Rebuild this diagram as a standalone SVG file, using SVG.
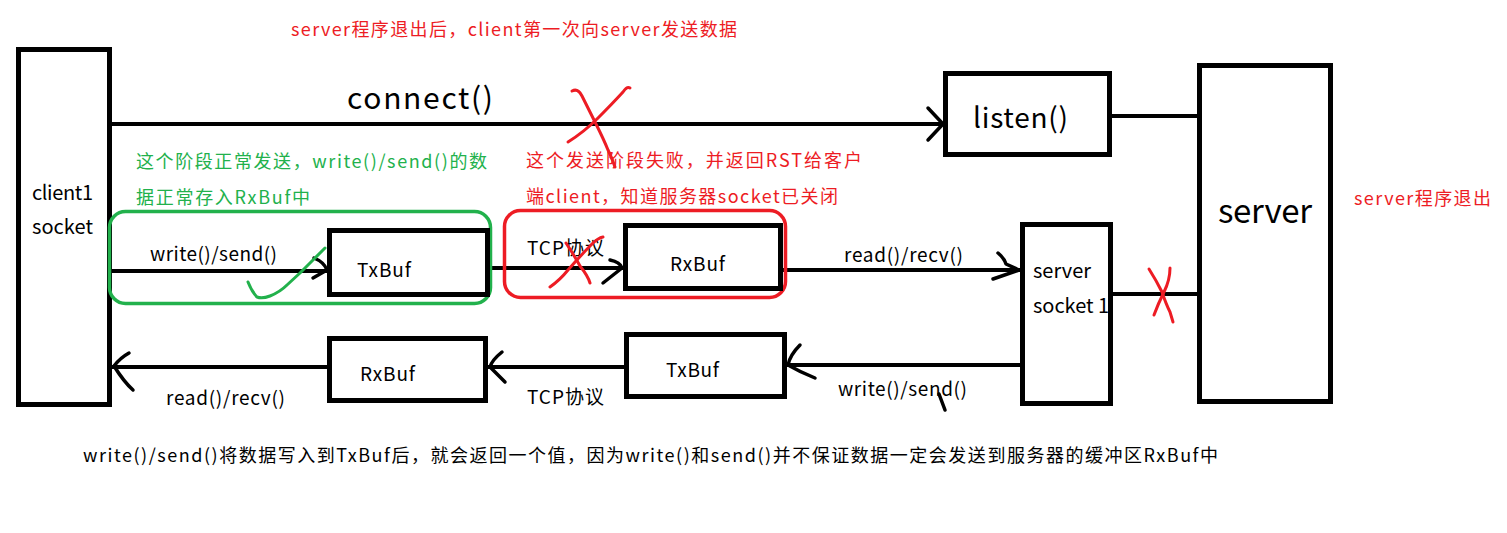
<svg xmlns="http://www.w3.org/2000/svg" width="1507" height="533" viewBox="0 0 1507 533">
<style>
text{font-family:"Noto Sans CJK SC","Liberation Sans",sans-serif;fill:#000}
.box{fill:#fff;stroke:#000;stroke-width:5}
.ln{fill:none;stroke:#000;stroke-width:4;stroke-linecap:square}
.ah{fill:none;stroke:#000;stroke-width:3.5;stroke-linecap:round;stroke-linejoin:round}
.red{fill:#ed1c24}
.grn{fill:#22b14c}
.rx{fill:none;stroke:#ed1c24;stroke-width:3;stroke-linecap:round;stroke-linejoin:round}
.gx{fill:none;stroke:#22b14c;stroke-width:3;stroke-linecap:round;stroke-linejoin:round}
</style>
<rect width="1507" height="533" fill="#fff"/>
<text class="red" x="291" y="36" font-size="18" textLength="446">server程序退出后，client第一次向server发送数据</text>
<g id="connectors">
<line class="ln" x1="112" y1="124" x2="941" y2="124"/>
<path class="ah" d="M928,108 L943,124 L928,140"/>
<text x="347" y="109" font-size="30" textLength="146">connect()</text>
<line class="ln" x1="1112" y1="116" x2="1197" y2="116"/>
<line class="ln" x1="106" y1="271" x2="325" y2="271"/>
<path class="ah" d="M314,258 Q324,262 327,270 L313,278"/>
<text x="150" y="261" font-size="19" textLength="127">write()/send()</text>
<line class="ln" x1="490" y1="268" x2="621" y2="268"/>
<path class="ah" d="M610,260 Q620,262 622,268 L603,283"/>
<text x="527" y="255" font-size="19" textLength="77">TCP协议</text>
<line class="ln" x1="783" y1="270" x2="1018" y2="270"/>
<path class="ah" d="M998,253 Q1004,258 1006,264 L1019,270 L993,279"/>
<text x="844" y="262" font-size="19" textLength="119">read()/recv()</text>
<line class="ln" x1="1113" y1="294" x2="1197" y2="294"/>
<line class="ln" x1="789" y1="365" x2="1020" y2="365"/>
<path class="ah" d="M800,345 Q790,355 788,365 Q800,372 815,378"/>
<text x="838" y="396" font-size="19" textLength="129">write()/send()</text>
<path class="ah" d="M939,394 L945,410"/>
<line class="ln" x1="490" y1="367" x2="624" y2="367"/>
<path class="ah" d="M502,352 Q492,360 490,367 Q498,375 505,382"/>
<text x="527" y="404" font-size="19" textLength="77">TCP协议</text>
<line class="ln" x1="114" y1="367" x2="327" y2="367"/>
<path class="ah" d="M129,353 Q120,358 114,366 Q124,382 133,390"/>
<text x="166" y="405" font-size="19" textLength="119">read()/recv()</text>
</g>
<g id="client1">
<rect class="box" x="18.5" y="49.5" width="91" height="355"/>
<text x="32" y="200" font-size="20" textLength="61">client1</text>
<text x="32" y="234" font-size="20" textLength="61">socket</text>
</g>
<g id="listen">
<rect class="box" x="945.5" y="73.5" width="164" height="81"/>
<text x="973" y="128" font-size="28" textLength="95">listen()</text>
</g>
<g id="server">
<rect class="box" x="1199.5" y="65.5" width="131" height="336"/>
<text x="1218" y="223" font-size="33" textLength="94">server</text>
</g>
<g id="server-socket">
<rect class="box" x="1022.5" y="224.5" width="88" height="179"/>
<text x="1033" y="278" font-size="20" textLength="58">server</text>
<text x="1033" y="313" font-size="20" textLength="76">socket 1</text>
</g>
<g id="green-group">
<rect x="109.5" y="211.5" width="381" height="92" rx="16" fill="none" stroke="#22b14c" stroke-width="3.5"/>
<text class="grn" x="136" y="168" font-size="18" textLength="351">这个阶段正常发送，write()/send()的数</text>
<text class="grn" x="136" y="204" font-size="18" textLength="174">据正常存入RxBuf中</text>
</g>
<g id="txbuf-client">
<rect class="box" x="329.5" y="230.5" width="158" height="64"/>
<text x="357" y="277" font-size="19" textLength="54">TxBuf</text>
</g>
<path class="gx" d="M248,282 Q252,292 257,297 Q262,299 270,296 Q280,292 287,285 L300,273 L313,260 L325,248"/>
<g id="red-group">
<rect x="504.5" y="210.5" width="281" height="87" rx="16" fill="none" stroke="#ed1c24" stroke-width="3.5"/>
<text class="red" x="526" y="167" font-size="18" textLength="336">这个发送阶段失败，并返回RST给客户</text>
<text class="red" x="526" y="203" font-size="18" textLength="312">端client，知道服务器socket已关闭</text>
</g>
<g id="rxbuf-server">
<rect class="box" x="625.5" y="225.5" width="155" height="63"/>
<text x="670" y="271" font-size="19" textLength="55">RxBuf</text>
</g>
<g id="txbuf-server">
<rect class="box" x="626.5" y="334.5" width="158" height="62"/>
<text x="666" y="377" font-size="19" textLength="53">TxBuf</text>
</g>
<g id="rxbuf-client">
<rect class="box" x="329.5" y="338.5" width="156" height="62"/>
<text x="360" y="381" font-size="19" textLength="55">RxBuf</text>
</g>
<g id="marks">
<path class="rx" d="M572,91 Q578,88 582,96 Q590,112 596,124 Q604,140 608,150 Q612,158 615,167"/>
<path class="rx" d="M630,88 Q627,86 623,92 Q612,104 598,118 Q584,132 568,142"/>
<path class="rx" d="M550,287 Q560,280 568,270 Q582,254 592,244 Q598,238 603,237"/>
<path class="rx" d="M566,243 Q574,255 580,266 Q588,276 590,283"/>
<path class="rx" d="M1149,269 Q1156,280 1162,292 Q1166,304 1170,312 L1173,322"/>
<path class="rx" d="M1170,268 Q1170,280 1164,292 Q1158,304 1154,315"/>
</g>
<text class="red" x="1354" y="205" font-size="18" textLength="137">server程序退出</text>
<text x="83" y="462" font-size="18" textLength="1135">write()/send()将数据写入到TxBuf后，就会返回一个值，因为write()和send()并不保证数据一定会发送到服务器的缓冲区RxBuf中</text>
</svg>
